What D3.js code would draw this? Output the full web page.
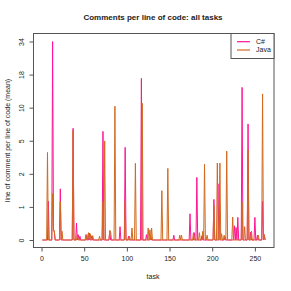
<!DOCTYPE html>
<html>
<head>
<meta charset="utf-8">
<script src="https://cdn.jsdelivr.net/npm/d3@7"></script>
<style>
body { margin: 0; background: #fff; }
text { font-family: "Liberation Sans", Arial, sans-serif; fill: #222; }
</style>
</head>
<body>
<svg id="chart" width="291" height="291"></svg>
<script>
// mean comments per line of code, one value per task (task 1..262)
let csharp = [
  0,0,0,0,0,0,0,1.0,0,0,
  0,0,34,0.2,0.15,0,0,0,0,0,
  0,1.5,0,0,0,0,0,0,0,0,
  0,0,0,0,0,0,6.4,0,0,0,
  0.35,0,0.1,0,0.07,0,0,0,0,0,
  0,0,0.1,0,0,0.13,0,0,0.08,0,
  0,0,0,0,0,0,0,0,0,0,
  0,6.0,0,0,0,0,0,0,0,0.17,
  0,0,0,0,0,0,0,0,0,0,
  0,0.27,0,0,0,0,0,4.26,0,0,
  0,0.07,0,0,0,0,0,0,0,0,
  0,0,0,0,0,0,17.1,0,0,0,
  0,0,0.1,0,0,0,0,0.08,0,0,
  0,0,0,0,0,0,0,0,0,0,
  0,0,0,0,0,0,0,0,0,0,
  0,0,0,0,0.09,0,0,0,0,0,
  0,0,0,0,0,0,0,0,0,0,
  0,0,0,0.6,0,0,0,0,0.14,0,
  0,2.07,0,0,0,0,0,0.08,0,0,
  0,0,0,0,0,0,0,0,0,0,
  0,1.07,0,0,0,0,0,1.74,0,0,
  0,0,0,0,0.06,0,0,0,0,0,
  0,0,0,0,0,0.29,0,0.25,0,0.5,
  0,0,0,0,14.4,0,0,0,0,0,
  0,7.0,0,0,0.15,0,0,0,0,0.5,
  0,0,0.09,0,0,0,0,0,1.0,0,
  0.1,0
]
let java = [
  0,0,0,0,0,0,3.8,0,0,0,
  0,0,1.3,0.2,0.18,0,0,0,0,0,
  0,1.0,0,0.17,0,0,0,0,0,0,
  0,0,0,0,0,0,6.1,0,0,0,
  0,0.1,0,0,0,0,0,0,0,0,
  0,0.1,0,0,0.14,0,0.12,0,0,0.08,
  0,0,0,0,0,0,0,0.07,0,0,
  0,1.0,0,4.9,0,0,0,0,0,0.19,
  0.15,0,0,0,0,10.0,0,0,0,0,
  0,0,0,0,0,0,0,1.0,0,0,
  0,0,0.07,0,0,0.24,0,0,0,2.95,
  0,0,0,0,0,0,0,10.6,0,0,
  0,0,0,0,0.24,0,0.2,0,0.24,0,
  0,0,0,0,0,0,0,0,0,0,
  1.42,0,0,0,0,0,0,2.61,0,0,
  0,0,0,0,0,0,0,0,0,0,
  0,0.09,0,0.09,0,0,0,0,0,0,
  0,0,0,0,0,0,0,0.14,0,0,
  0,0,0,0,0.14,0,0,0,0.17,0,
  2.88,0,0,0.09,0,0,0,0,0,0,
  0,0.86,0,0,0,2.97,0,0,2.97,0,
  0.12,0,0,0.09,0,0,3.92,0,0,0,
  0,0,0,0.51,0,0,0,0,0,0,
  0,0,0,0,0.98,0,0,0.27,0,0,
  0,4.0,0,0,0,0.17,0,0,0,0,
  0,0,0,0.09,0,0,0,0,12.7,0,
  0.1,0
]
let seriesNames = ["C#", "Java"]
let seriesColors = ["#ff1493", "#d2691e"]
let xTicks = [0, 50, 100, 150, 200, 250]
// y axis is log(1+x); ticks sit at equal steps, labels are rounded
let yTickValues = [0, 0.809, 2.272, 4.92, 9.71, 18.37, 34.04]
let yTickLabels = ["0", "1", "2", "5", "10", "18", "34"]

let svg = d3.select("#chart")
let box = {left: 33.5, right: 274, top: 33.5, bottom: 247.5}

let x = d3.scaleLinear().domain([-9.4, 272.4]).range([box.left, box.right])
let y = d3.scaleLinear().domain([0, Math.log1p(34.04)]).range([240, 41.5])

let line = d3.line()
  .x((d, i) => x(i + 1))
  .y(d => y(Math.log1p(d)))

let data = [csharp, java]
svg.append("g").selectAll("path")
  .data(data)
  .join("path")
  .attr("d", d => line(d))
  .attr("fill", "none")
  .attr("stroke", (d, i) => seriesColors[i])
  .attr("stroke-width", 1)
  .attr("stroke-linejoin", "round")

// box
svg.append("rect")
  .attr("x", box.left).attr("y", box.top)
  .attr("width", box.right - box.left).attr("height", box.bottom - box.top)
  .attr("fill", "none").attr("stroke", "#555").attr("stroke-width", 1)

// x axis
let xAxis = svg.append("g")
  .attr("transform", "translate(0," + box.bottom + ")")
  .call(d3.axisBottom(x).tickValues(xTicks).tickSize(4).tickPadding(5))
xAxis.select(".domain").attr("d", "M" + x(0) + ",0H" + x(250)).attr("stroke", "#555")
xAxis.selectAll(".tick line").attr("stroke", "#555")
xAxis.selectAll("text").attr("font-size", 7).attr("fill", "#222")

// y axis
let yAxis = svg.append("g")
  .attr("transform", "translate(" + box.left + ",0)")
  .call(d3.axisLeft(y).tickValues(yTickValues.map(v => Math.log1p(v)))
    .tickFormat((d, i) => yTickLabels[i]).tickSize(4).tickPadding(3))
yAxis.select(".domain").attr("d", "M0," + y(0) + "V" + y(Math.log1p(34.04))).attr("stroke", "#555")
yAxis.selectAll(".tick line").attr("stroke", "#555")
yAxis.selectAll("text")
  .attr("font-size", 7).attr("fill", "#222")
  .attr("text-anchor", "middle")
  .attr("x", 0).attr("dy", 0)
  .attr("transform", "translate(-10,0) rotate(-90)")

// titles
svg.append("text")
  .attr("x", 153).attr("y", 20)
  .attr("text-anchor", "middle")
  .attr("font-size", 8).attr("font-weight", "bold")
  .text("Comments per line of code: all tasks")
svg.append("text")
  .attr("x", 153).attr("y", 279)
  .attr("text-anchor", "middle")
  .attr("font-size", 7)
  .text("task")
svg.append("text")
  .attr("transform", "translate(10," + ((box.top + box.bottom) / 2) + ") rotate(-90)")
  .attr("text-anchor", "middle")
  .attr("font-size", 7)
  .text("line of comment per line of code (mean)")

// legend
let legend = svg.append("g")
legend.append("rect")
  .attr("x", 231).attr("y", box.top).attr("width", box.right - 231).attr("height", 25)
  .attr("fill", "#fff").attr("stroke", "#555")
seriesNames.forEach(function(name, i) {
  legend.append("line")
    .attr("x1", 237).attr("x2", 250)
    .attr("y1", 41.7 + i * 8.3).attr("y2", 41.7 + i * 8.3)
    .attr("stroke", seriesColors[i]).attr("stroke-width", 1.2)
  legend.append("text")
    .attr("x", 256).attr("y", 44 + i * 8.3)
    .attr("font-size", 7)
    .text(name)
})
</script>
</body>
</html>
